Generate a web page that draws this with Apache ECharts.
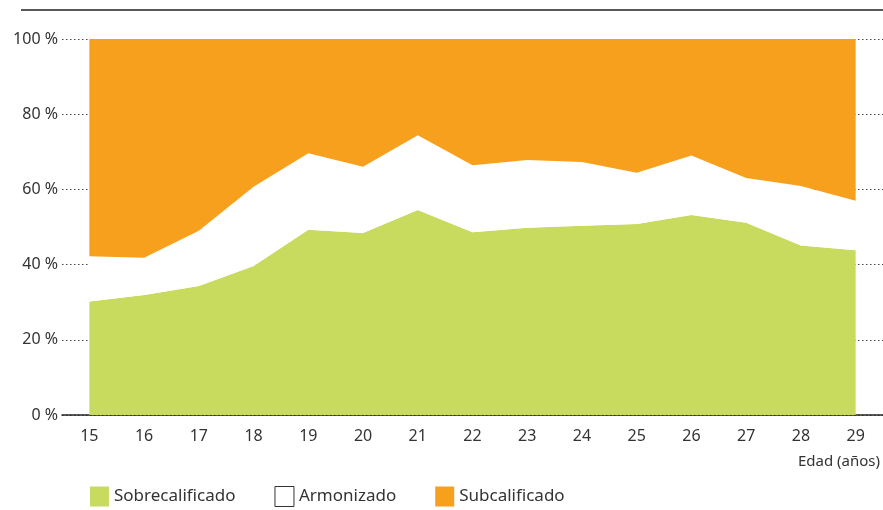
<!DOCTYPE html>
<html>
<head>
<meta charset="utf-8">
<script src="https://cdn.jsdelivr.net/npm/echarts@6/dist/echarts.min.js"></script>
<style>
  html, body { margin: 0; padding: 0; background: #fff; }
  #chart { width: 883px; height: 510px; }
</style>
</head>
<body>
<div id="chart"></div>
<script>
// edades
const ages = ['15', '16', '17', '18', '19', '20', '21', '22', '23', '24', '25', '26', '27', '28', '29']
// porcentajes
const sobrecalificado = [30.2, 31.9, 34.3, 39.6, 49.3, 48.4, 54.5, 48.6, 49.8, 50.3, 50.8, 53.2, 51.1, 45.1, 43.8]
const armonizado = [12.0, 9.9, 14.7, 21.1, 20.3, 17.6, 19.9, 17.8, 18.0, 17.0, 13.6, 15.8, 11.9, 15.8, 13.2]
const subcalificado = [57.8, 58.2, 51.0, 39.3, 30.4, 34.0, 25.6, 33.6, 32.2, 32.7, 35.6, 31.0, 37.0, 39.1, 43.0]

const GREEN = '#c9db5f'
const ORANGE = '#f6a01e'
const FONT = 'Noto Sans'

const chart = echarts.init(document.getElementById('chart'))

function areaSeries(name, data, color) {
  return {
    name: name,
    type: 'line',
    stack: 'total',
    data: data,
    symbol: 'none',
    lineStyle: { width: 0 },
    areaStyle: { color: color, opacity: 1 },
    itemStyle: { color: color },
    silent: true
  }
}

const option = {
  animation: false,
  textStyle: { fontFamily: FONT },
  grid: { left: 62, right: 0, top: 39, bottom: 95 },
  legend: {
    left: 85,
    top: 481,
    itemWidth: 19,
    itemHeight: 20,
    itemGap: 39,
    icon: 'rect',
    textStyle: { fontSize: 17, color: '#333', fontFamily: FONT },
    data: [
      { name: 'Sobrecalificado', itemStyle: { color: GREEN } },
      { name: 'Armonizado', itemStyle: { color: '#fff', borderColor: '#333', borderWidth: 1 } },
      { name: 'Subcalificado', itemStyle: { color: ORANGE } }
    ]
  },
  xAxis: {
    type: 'category',
    data: ages,
    boundaryGap: true,
    axisLine: { lineStyle: { color: '#222', width: 1.5 } },
    axisTick: { show: false },
    axisLabel: { color: '#333', fontSize: 16, margin: 13 }
  },
  yAxis: {
    type: 'value',
    min: 0,
    max: 100,
    interval: 20,
    axisLine: { show: false },
    axisTick: { show: false },
    axisLabel: { formatter: '{value} %', color: '#333', fontSize: 16, margin: 4 },
    splitLine: { lineStyle: { type: [1.5, 2.5], color: '#444', width: 1 } }
  },
  graphic: [
    {
      type: 'line',
      shape: { x1: 21, y1: 10, x2: 883, y2: 10 },
      style: { stroke: '#222', lineWidth: 1.5 }
    },
    {
      type: 'text',
      right: 3,
      top: 454,
      style: { text: 'Edad (años)', fontSize: 15, fill: '#333', fontFamily: FONT }
    }
  ],
  series: [
    areaSeries('Sobrecalificado', sobrecalificado, GREEN),
    areaSeries('Armonizado', armonizado, '#fff'),
    areaSeries('Subcalificado', subcalificado, ORANGE)
  ]
}

chart.setOption(option)
</script>
</body>
</html>
